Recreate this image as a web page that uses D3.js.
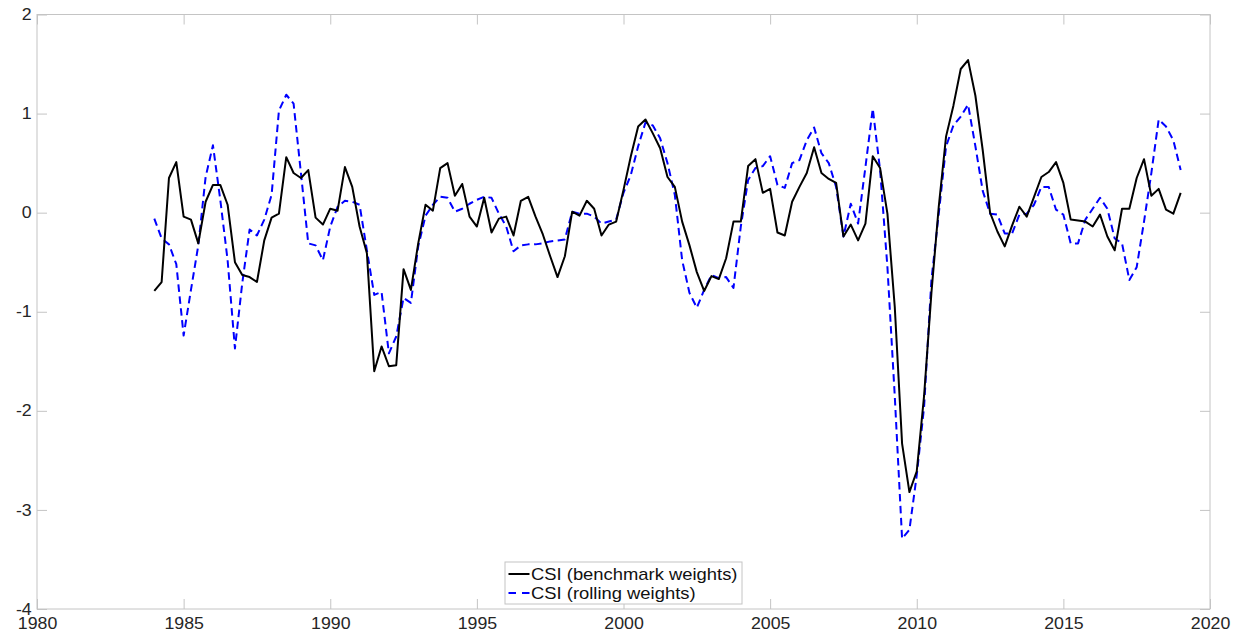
<!DOCTYPE html>
<html>
<head>
<meta charset="utf-8">
<script src="https://cdn.jsdelivr.net/npm/d3@7"></script>
<style>
  html, body { margin: 0; padding: 0; background: #fff; }
  svg { display: block; }
</style>
</head>
<body>
<svg id="chart" width="1254" height="635"></svg>
<script>
// Quarterly composite stress index, 1984Q1 – 2019Q1
const firstYear = 1984;
const periodsPerYear = 4;

const csiBenchmark = [
  -0.79, -0.70, 0.35, 0.51, -0.04, -0.07, -0.31, 0.11, 0.28, 0.28,
  0.08, -0.50, -0.63, -0.65, -0.70, -0.28, -0.05, -0.01, 0.56, 0.40,
  0.35, 0.43, -0.05, -0.12, 0.04, 0.02, 0.46, 0.26, -0.14, -0.41,
  -1.60, -1.35, -1.55, -1.54, -0.57, -0.78, -0.31, 0.08, 0.02, 0.45,
  0.50, 0.17, 0.29, -0.04, -0.14, 0.15, -0.20, -0.06, -0.04, -0.23,
  0.12, 0.16, -0.04, -0.22, -0.44, -0.65, -0.44, 0.01, -0.03, 0.12,
  0.04, -0.23, -0.12, -0.09, 0.23, 0.57, 0.87, 0.94, 0.80, 0.65,
  0.36, 0.26, -0.09, -0.33, -0.60, -0.79, -0.64, -0.67, -0.46, -0.09,
  -0.09, 0.47, 0.54, 0.20, 0.24, -0.20, -0.23, 0.11, 0.26, 0.40,
  0.66, 0.40, 0.34, 0.30, -0.24, -0.12, -0.28, -0.11, 0.57, 0.45,
  -0.01, -0.95, -2.33, -2.82, -2.61, -1.85, -0.81, 0.06, 0.77, 1.08,
  1.45, 1.54, 1.18, 0.63, 0.00, -0.19, -0.34, -0.13, 0.06, -0.04,
  0.16, 0.36, 0.41, 0.51, 0.30, -0.07, -0.08, -0.09, -0.14, -0.02,
  -0.24, -0.38, 0.04, 0.04, 0.35, 0.54, 0.17, 0.24, 0.03, -0.01,
  0.20
];

const csiRolling = [
  -0.06, -0.26, -0.32, -0.52, -1.24, -0.78, -0.33, 0.36, 0.68, 0.13,
  -0.48, -1.37, -0.71, -0.17, -0.23, -0.07, 0.18, 1.03, 1.19, 1.10,
  0.40, -0.31, -0.33, -0.48, -0.14, 0.06, 0.12, 0.11, 0.08, -0.38,
  -0.83, -0.80, -1.42, -1.25, -0.86, -0.91, -0.34, -0.03, 0.08, 0.16,
  0.15, 0.01, 0.04, 0.09, 0.13, 0.16, 0.15, -0.01, -0.14, -0.39,
  -0.33, -0.32, -0.32, -0.31, -0.29, -0.28, -0.27, 0.01, -0.01, -0.01,
  -0.04, -0.11, -0.09, -0.07, 0.20, 0.38, 0.67, 0.91, 0.88, 0.75,
  0.50, 0.18, -0.48, -0.81, -0.96, -0.78, -0.63, -0.66, -0.65, -0.76,
  -0.14, 0.33, 0.45, 0.47, 0.57, 0.28, 0.25, 0.50, 0.53, 0.73,
  0.86, 0.60, 0.50, 0.26, -0.24, 0.09, -0.11, 0.46, 1.05, 0.43,
  -0.55, -1.85, -3.29, -3.20, -2.65, -1.96, -0.68, -0.01, 0.67, 0.88,
  0.97, 1.09, 0.67, 0.22, -0.01, -0.02, -0.21, -0.21, -0.02, -0.01,
  0.08, 0.26, 0.26, 0.03, -0.02, -0.31, -0.31, -0.07, 0.04, 0.15,
  0.04, -0.26, -0.31, -0.68, -0.55, -0.09, 0.40, 0.94, 0.87, 0.73,
  0.43
];

const xTickValues = [1980, 1985, 1990, 1995, 2000, 2005, 2010, 2015, 2020];
const yTickValues = [-4, -3, -2, -1, 0, 1, 2];
const seriesLabels = ["CSI (benchmark weights)", "CSI (rolling weights)"];

// ---- layout ----
const plot = { left: 37, right: 1210, top: 14.5, bottom: 609 };
const axisColor = "#c4c4c4";
const labelColor = "#262626";
const fontFamily = "'Liberation Sans', Arial, Helvetica, sans-serif";
const tickLen = 10;
const textStretch = 1.11;

const svg = d3.select("#chart");

const x = d3.scaleLinear().domain([1980, 2020]).range([plot.left, plot.right]);
const y = d3.scaleLinear().domain([-4, 2]).range([plot.bottom, plot.top]);

const timeOf = i => firstYear + i / periodsPerYear;

// plot frame
svg.append("rect")
  .attr("x", plot.left).attr("y", plot.top)
  .attr("width", plot.right - plot.left)
  .attr("height", plot.bottom - plot.top)
  .attr("fill", "#fff")
  .attr("stroke", axisColor)
  .attr("stroke-width", 1);

function styleAxis(g) {
  g.select(".domain").remove();
  g.selectAll(".tick line").attr("stroke", axisColor).attr("stroke-width", 1);
  g.selectAll(".tick text")
    .attr("fill", labelColor)
    .style("font-family", fontFamily)
    .style("font-size", "16px");
}

// bottom axis with labels
svg.append("g")
  .attr("transform", `translate(0,${plot.bottom})`)
  .call(d3.axisBottom(x).tickValues(xTickValues).tickFormat(d => String(d))
    .tickSizeInner(-tickLen).tickSizeOuter(0).tickPadding(8.6))
  .call(styleAxis)
  .call(g => g.selectAll(".tick text").attr("transform", `scale(${textStretch},1)`));

// left axis with labels
svg.append("g")
  .attr("transform", `translate(${plot.left},0)`)
  .call(d3.axisLeft(y).tickValues(yTickValues).tickFormat(d => String(d))
    .tickSizeInner(-tickLen).tickSizeOuter(0).tickPadding(4.8))
  .call(styleAxis)
  .call(g => g.selectAll(".tick text").attr("transform", `scale(${textStretch},1)`));

// mirrored ticks on top and right
svg.append("g")
  .attr("transform", `translate(0,${plot.top})`)
  .call(d3.axisTop(x).tickValues(xTickValues).tickFormat("")
    .tickSizeInner(-tickLen).tickSizeOuter(0))
  .call(styleAxis);

svg.append("g")
  .attr("transform", `translate(${plot.right},0)`)
  .call(d3.axisRight(y).tickValues(yTickValues).tickFormat("")
    .tickSizeInner(-tickLen).tickSizeOuter(0))
  .call(styleAxis);

// series
const line = d3.line()
  .x((d, i) => x(timeOf(i)))
  .y(d => y(d));

const series = [
  { values: csiBenchmark, color: "#000000", dash: null },
  { values: csiRolling, color: "#0000ff", dash: "7.5,4.5" }
];

const lines = svg.append("g");
// rolling weights drawn first, benchmark on top
[series[1], series[0]].forEach(s => {
  lines.append("path")
    .datum(s.values)
    .attr("d", line)
    .attr("fill", "none")
    .attr("stroke", s.color)
    .attr("stroke-width", 2)
    .attr("stroke-linejoin", "round")
    .attr("stroke-dasharray", s.dash);
});

// legend
const legend = { x: 505, y: 562, w: 237, h: 42 };
const lg = svg.append("g");
lg.append("rect")
  .attr("x", legend.x).attr("y", legend.y)
  .attr("width", legend.w).attr("height", legend.h)
  .attr("fill", "#fff")
  .attr("stroke", axisColor)
  .attr("stroke-width", 1);

const rowY = [574, 593];
series.forEach((s, i) => {
  lg.append("line")
    .attr("x1", legend.x + 3.5).attr("x2", legend.x + 24.5)
    .attr("y1", rowY[i]).attr("y2", rowY[i])
    .attr("stroke", s.color)
    .attr("stroke-width", 2)
    .attr("stroke-dasharray", s.dash ? "7.5,6" : null);
  lg.append("text")
    .attr("transform", `translate(${legend.x + 26},${rowY[i] + 5.6}) scale(1.15,1)`)
    .attr("fill", "#111")
    .style("font-family", fontFamily)
    .style("font-size", "16px")
    .text(seriesLabels[i]);
});
</script>
</body>
</html>
